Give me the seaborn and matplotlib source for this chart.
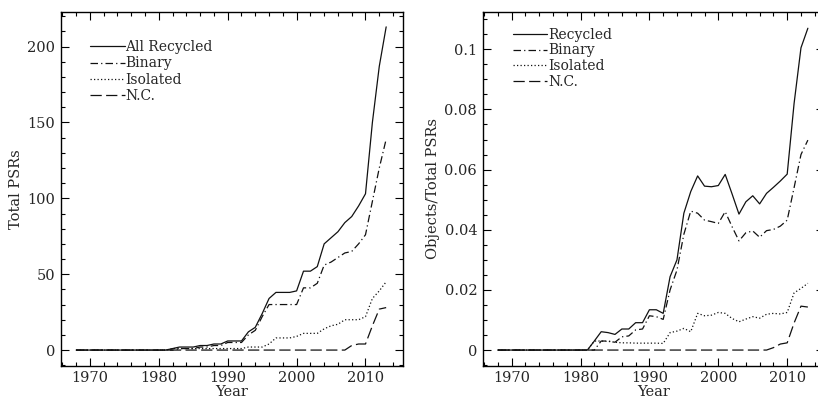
import numpy as np
import pandas as pd
import matplotlib
matplotlib.use("Agg")
import matplotlib.pyplot as plt
import seaborn as sns

# years 1968 - 2013
years = list(range(1968, 2014))

# left panel: cumulative numbers of recycled pulsars
recycled_n = [0, 0, 0, 0, 0, 0, 0, 0, 0, 0, 0, 0, 0, 0,
              1, 2, 2, 2, 3, 3, 4, 4, 6, 6, 6, 12, 15, 24, 34, 38, 38, 38, 39,
              52, 52, 55, 70, 74, 78, 84, 88, 95, 103, 150, 187, 213]
binary_n = [0, 0, 0, 0, 0, 0, 0, 0, 0, 0, 0, 0, 0, 0,
            0, 1, 1, 1, 2, 2, 3, 3, 5, 5, 5, 10, 13, 22, 30, 30, 30, 30, 30,
            41, 41, 44, 56, 58, 61, 64, 65, 70, 76, 98, 120, 139]
isolated_n = [0, 0, 0, 0, 0, 0, 0, 0, 0, 0, 0, 0, 0, 0,
              1, 1, 1, 1, 1, 1, 1, 1, 1, 1, 1, 2, 2, 2, 4, 8, 8, 8, 9,
              11, 11, 11, 14, 16, 17, 20, 20, 20, 22, 34, 39, 45]
nc_n = [0, 0, 0, 0, 0, 0, 0, 0, 0, 0, 0, 0, 0, 0,
        0, 0, 0, 0, 0, 0, 0, 0, 0, 0, 0, 0, 0, 0, 0, 0, 0, 0, 0,
        0, 0, 0, 0, 0, 0, 0, 3, 4, 4, 16, 27, 28]

# right panel: fraction of all known pulsars
recycled_f = [0, 0, 0, 0, 0, 0, 0, 0, 0, 0, 0, 0, 0, 0,
              0.0030, 0.0061, 0.0058, 0.0052, 0.0070, 0.0070, 0.0091, 0.0091,
              0.0134, 0.0134, 0.0122, 0.0244, 0.0300, 0.0455, 0.0527, 0.0579,
              0.0545, 0.0543, 0.0547, 0.0584, 0.0519, 0.0452, 0.0493, 0.0513,
              0.0486, 0.0521, 0.0541, 0.0562, 0.0585, 0.0820, 0.1005, 0.1070]
binary_f = [0, 0, 0, 0, 0, 0, 0, 0, 0, 0, 0, 0, 0, 0,
            0, 0.0030, 0.0030, 0.0026, 0.0044, 0.0047, 0.0067, 0.0070,
            0.0114, 0.0111, 0.0102, 0.0200, 0.0266, 0.0385, 0.0462, 0.0455,
            0.0432, 0.0427, 0.0421, 0.0460, 0.0410, 0.0363, 0.0390, 0.0396,
            0.0375, 0.0397, 0.0401, 0.0412, 0.0432, 0.0540, 0.0650, 0.0698]
isolated_f = [0, 0, 0, 0, 0, 0, 0, 0, 0, 0, 0, 0, 0, 0,
              0.0030, 0.0030, 0.0029, 0.0026, 0.0024, 0.0024, 0.0023, 0.0023,
              0.0023, 0.0023, 0.0022, 0.0058, 0.0063, 0.0072, 0.0061, 0.0122,
              0.0114, 0.0116, 0.0125, 0.0122, 0.0105, 0.0094, 0.0103, 0.0111,
              0.0106, 0.0119, 0.0122, 0.0120, 0.0125, 0.0190, 0.0205, 0.0222]
nc_f = [0, 0, 0, 0, 0, 0, 0, 0, 0, 0, 0, 0, 0, 0,
        0, 0, 0, 0, 0, 0, 0, 0, 0, 0, 0, 0, 0, 0, 0, 0, 0, 0, 0,
        0, 0, 0, 0, 0, 0, 0, 0.0008, 0.0020, 0.0024, 0.0090, 0.0146, 0.0143]

left_labels = ["All Recycled", "Binary", "Isolated", "N.C."]
right_labels = ["Recycled", "Binary", "Isolated", "N.C."]

styles = ["-", (0, (6, 2.5, 1, 2.5)), (0, (1, 1.8)), (0, (9, 3.5))]

sns.set_style("ticks")
plt.rcParams["font.family"] = ["DejaVu Serif"]
plt.rcParams["font.size"] = 10.5

fig = plt.figure(figsize=(8.18, 4.0), dpi=100)
ax1 = fig.add_axes([61 / 818, 1 - 365.7 / 400, 341.7 / 818, 354 / 400])
ax2 = fig.add_axes([482.7 / 818, 1 - 365.7 / 400, 341.7 / 818, 354 / 400])


def draw(ax, series, labels):
    for vals, lab, ls in zip(series, labels, styles):
        df = pd.DataFrame({"Year": years, "v": vals})
        sns.lineplot(data=df, x="Year", y="v", ax=ax, color="#111111",
                     lw=0.9, linestyle=ls, label=lab)
    ax.set_xlim(1965.8, 2015.4)
    ax.set_xticks(range(1970, 2011, 10))
    ax.set_xticks(range(1966, 2016, 2), minor=True)
    ax.tick_params(which="both", direction="in", top=True, right=True,
                   width=0.8, color="black", labelsize=10.5)
    ax.tick_params(which="major", length=6, pad=4)
    ax.tick_params(which="minor", length=3)
    for sp in ax.spines.values():
        sp.set_linewidth(1.0)
        sp.set_color("black")
    ax.set_xlabel("Year", labelpad=0, fontsize=10.5)


draw(ax1, [recycled_n, binary_n, isolated_n, nc_n], left_labels)
ax1.set_ylim(-10.3, 223)
ax1.set_yticks([0, 50, 100, 150, 200])
ax1.set_yticks(range(-10, 221, 10), minor=True)
ax1.set_ylabel("Total PSRs", labelpad=3, fontsize=10.5)
ax1.legend(loc="upper left", bbox_to_anchor=(0.085, 0.92), frameon=False,
           handlelength=2.5, handletextpad=0.05, labelspacing=0.17,
           borderpad=0, borderaxespad=0, fontsize=10)

draw(ax2, [recycled_f, binary_f, isolated_f, nc_f], right_labels)
ax2.set_ylim(-0.0052, 0.1125)
ax2.set_yticks([0, 0.02, 0.04, 0.06, 0.08, 0.1])
ax2.set_yticklabels(["0", "0.02", "0.04", "0.06", "0.08", "0.1"])
ax2.set_yticks(np.arange(-0.005, 0.1126, 0.005), minor=True)
ax2.set_ylabel("Objects/Total PSRs", labelpad=3, fontsize=10.5)
ax2.legend(loc="upper left", bbox_to_anchor=(0.088, 0.955), frameon=False,
           handlelength=2.5, handletextpad=0.05, labelspacing=0.13,
           borderpad=0, borderaxespad=0, fontsize=10)

fig.savefig("out.png", dpi=100)
